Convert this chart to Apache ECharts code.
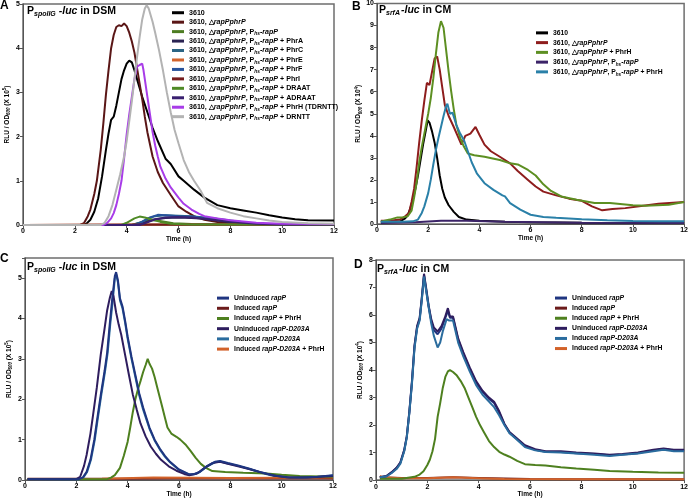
<!DOCTYPE html>
<html><head><meta charset="utf-8">
<script src="https://cdn.jsdelivr.net/npm/echarts@6/dist/echarts.min.js"></script>
<style>html,body{margin:0;padding:0;background:#fff}#c{width:691px;height:499px}</style>
</head><body><div id="c"></div>
<script>
// ---------- axis settings ----------
const xMin = 0, xMax = 12, xStep = 2;
const yMaxA = 5, yMaxB = 10, yMaxC = 5.5, yMaxD = 8, yStep = 1;

// ---------- Panel A : PspoIIG-luc in DSM (x 10^5) ----------
const a3610 = [[0,0],[2.3,0],[2.45,0.03],[2.6,0.12],[2.75,0.3],[2.9,0.6],[3.05,1.1],[3.2,1.7],[3.3,2.07],[3.4,2.38],[3.5,2.45],[3.6,2.7],[3.7,3.0],[3.8,3.3],[3.9,3.5],[4.0,3.65],[4.1,3.72],[4.2,3.68],[4.3,3.5],[4.4,3.3],[4.6,2.9],[4.8,2.55],[5.0,2.2],[5.2,1.9],[5.5,1.5],[5.7,1.38],[6.0,1.1],[6.2,1.0],[6.6,0.8],[7.0,0.62],[7.5,0.45],[8.0,0.38],[8.5,0.33],[9.0,0.28],[9.5,0.22],[10,0.17],[10.5,0.13],[11,0.11],[12,0.1]];
const aDelta = [[0,0],[2.2,0],[2.35,0.04],[2.5,0.2],[2.6,0.35],[2.75,0.7],[2.85,1.0],[3.0,1.7],[3.1,2.3],[3.2,2.95],[3.3,3.5],[3.4,4.0],[3.5,4.3],[3.6,4.48],[3.7,4.52],[3.8,4.5],[3.9,4.56],[4.0,4.5],[4.1,4.35],[4.2,4.15],[4.3,3.9],[4.4,3.55],[4.5,3.2],[4.6,2.85],[4.7,2.45],[4.8,2.1],[5.0,1.55],[5.2,1.2],[5.4,0.95],[5.7,0.68],[6.0,0.42],[6.3,0.3],[6.6,0.2],[7.0,0.12],[7.5,0.07],[8,0.05],[9,0.03],[12,0.02]];
const aHsRapP = [[0,0],[4.2,0],[4.5,0.05],[4.8,0.1],[5.1,0.11],[5.4,0.08],[5.8,0.04],[6.5,0.02],[12,0.01]];
const aPhrA = [[0,0],[4.4,0],[4.7,0.05],[5.0,0.12],[5.5,0.16],[6.0,0.17],[6.5,0.16],[7,0.14],[7.5,0.1],[8,0.06],[8.5,0.03],[9,0.02],[12,0.01]];
const aPhrC = [[0,0],[4.2,0],[4.5,0.05],[4.8,0.14],[5.1,0.2],[5.5,0.22],[6,0.21],[6.5,0.2],[7,0.17],[7.5,0.14],[8,0.1],[8.5,0.06],[9,0.03],[10,0.01],[12,0.01]];
const aPhrE = [[0,0],[5,0.01],[12,0.01]];
const aPhrF = [[0,0],[4.3,0],[4.6,0.07],[4.9,0.17],[5.2,0.23],[5.5,0.22],[6,0.2],[6.5,0.19],[7,0.16],[7.5,0.13],[8,0.09],[8.5,0.05],[9,0.03],[10,0.01],[12,0.01]];
const aPhrI = [[0,0],[5,0.01],[12,0.01]];
const aDRAAT = [[0,0],[3.8,0],[4.0,0.05],[4.3,0.15],[4.5,0.19],[4.7,0.17],[5.0,0.12],[5.3,0.07],[5.7,0.03],[6.5,0.01],[12,0.01]];
const aADRAAT = [[0,0],[4.5,0],[4.8,0.06],[5.1,0.13],[5.5,0.17],[6,0.18],[6.5,0.17],[7,0.14],[7.5,0.11],[8,0.08],[8.5,0.05],[9,0.03],[10,0.01],[12,0.01]];
const aPhrH = [[0,0],[3.1,0],[3.25,0.05],[3.4,0.15],[3.5,0.27],[3.6,0.45],[3.7,0.7],[3.8,1.0],[3.9,1.5],[4.0,2.05],[4.1,2.5],[4.2,2.9],[4.3,3.3],[4.4,3.58],[4.5,3.62],[4.6,3.65],[4.65,3.5],[4.7,3.3],[4.8,2.9],[4.9,2.5],[5.0,2.1],[5.1,1.8],[5.2,1.55],[5.3,1.32],[5.5,1.05],[5.7,0.85],[6.0,0.62],[6.2,0.48],[6.5,0.35],[6.8,0.25],[7.0,0.2],[7.5,0.15],[8,0.11],[8.5,0.08],[9,0.05],[10,0.03],[12,0.02]];
const aDRNTT = [[0,0],[3.0,0],[3.15,0.05],[3.3,0.2],[3.45,0.45],[3.6,0.8],[3.75,1.15],[3.9,1.55],[4.0,1.9],[4.1,2.35],[4.2,2.8],[4.3,3.3],[4.4,3.8],[4.5,4.25],[4.6,4.65],[4.7,4.9],[4.77,4.97],[4.85,4.9],[5.0,4.6],[5.1,4.35],[5.25,3.95],[5.4,3.5],[5.55,3.0],[5.7,2.55],[5.85,2.15],[6.0,1.85],[6.2,1.47],[6.4,1.2],[6.6,1.0],[6.85,0.78],[7.1,0.5],[7.5,0.38],[8.0,0.28],[8.5,0.2],[9.0,0.15],[9.5,0.1],[10,0.07],[11,0.04],[12,0.03]];

// ---------- Panel B : PsrfA-luc in CM (x 10^4) ----------
const b3610 = [[0.15,0.1],[0.5,0.1],[0.9,0.12],[1.1,0.25],[1.2,0.4],[1.3,0.7],[1.4,1.1],[1.5,1.6],[1.6,2.2],[1.7,2.9],[1.8,3.6],[1.9,4.2],[1.98,4.7],[2.05,4.6],[2.15,4.2],[2.25,3.7],[2.35,3.0],[2.45,2.2],[2.55,1.6],[2.65,1.2],[2.8,0.85],[3.0,0.55],[3.2,0.32],[3.5,0.2],[4,0.15],[5,0.1],[6,0.08],[8,0.06],[10,0.05],[12,0.05]];
const bDelta = [[0.15,0.15],[0.5,0.15],[0.9,0.2],[1.1,0.35],[1.25,0.5],[1.35,1.0],[1.45,1.6],[1.55,2.6],[1.65,3.7],[1.75,4.7],[1.85,5.6],[1.95,6.4],[2.05,6.3],[2.15,6.9],[2.25,7.5],[2.35,7.6],[2.45,7.0],[2.55,6.2],[2.65,5.4],[2.8,4.9],[3.0,4.4],[3.15,4.0],[3.3,3.6],[3.45,4.0],[3.65,4.1],[3.85,4.4],[4.0,4.05],[4.2,3.6],[4.45,3.3],[4.8,3.05],[5.2,2.75],[5.5,2.4],[5.9,2.0],[6.2,1.7],[6.5,1.47],[7.0,1.3],[7.5,1.15],[8.0,1.05],[8.4,0.8],[8.8,0.62],[9.2,0.68],[9.7,0.72],[10.4,0.83],[11.0,0.92],[12,1.0]];
const bDeltaPhrH = [[0.15,0.1],[0.5,0.2],[0.8,0.3],[1.0,0.3],[1.2,0.35],[1.35,0.6],[1.45,1.2],[1.55,1.9],[1.65,2.8],[1.75,3.5],[1.9,4.4],[2.0,5.0],[2.1,5.7],[2.2,6.6],[2.3,7.7],[2.4,8.7],[2.5,9.2],[2.6,8.9],[2.7,7.9],[2.8,6.9],[2.9,6.0],[3.0,5.2],[3.1,4.5],[3.25,3.9],[3.4,3.5],[3.55,3.2],[3.8,3.12],[4.2,3.05],[4.8,2.9],[5.2,2.75],[5.5,2.7],[5.9,2.45],[6.2,2.2],[6.5,1.8],[6.8,1.5],[7.2,1.25],[7.8,1.1],[8.5,0.95],[9.1,0.95],[10,0.85],[10.5,0.83],[11.4,0.87],[12,1.0]];
const bHsRapP = [[0.15,0.05],[1.5,0.08],[2.5,0.15],[3.5,0.15],[5,0.1],[8,0.06],[12,0.05]];
const bHsRapPPhrH = [[0.15,0.1],[1.0,0.1],[1.4,0.12],[1.6,0.2],[1.75,0.5],[1.85,0.8],[2.0,1.4],[2.1,2.0],[2.2,2.7],[2.3,3.35],[2.4,3.9],[2.5,4.4],[2.6,4.9],[2.7,5.35],[2.75,5.45],[2.85,5.0],[2.95,5.05],[3.1,4.5],[3.25,4.1],[3.4,3.8],[3.55,3.3],[3.7,2.8],[3.9,2.3],[4.2,1.85],[4.55,1.55],[4.9,1.3],[5.0,1.25],[5.2,0.95],[5.4,0.8],[5.6,0.65],[6.0,0.42],[6.5,0.32],[7.0,0.28],[8,0.22],[9,0.17],[10,0.14],[11,0.12],[12,0.12]];

// ---------- Panel C : PspoIIG-luc in DSM (x 10^5) ----------
const cUnRapP = [[0.1,0.02],[2.1,0.02],[2.25,0.06],[2.4,0.2],[2.55,0.5],[2.7,1.0],[2.8,1.45],[2.95,2.1],[3.1,2.7],[3.2,3.15],[3.3,3.85],[3.4,4.5],[3.5,5.05],[3.55,5.15],[3.62,4.95],[3.7,4.5],[3.8,4.3],[3.9,3.95],[4.0,3.55],[4.15,3.05],[4.3,2.6],[4.45,2.15],[4.6,1.8],[4.85,1.3],[5.05,1.0],[5.25,0.78],[5.45,0.6],[5.65,0.45],[6.0,0.26],[6.4,0.14],[6.6,0.15],[6.8,0.2],[7.1,0.35],[7.4,0.45],[7.6,0.47],[7.9,0.42],[8.3,0.36],[8.75,0.28],[9.2,0.19],[9.7,0.11],[10.2,0.07],[10.8,0.06],[11.4,0.08],[12,0.12]];
const cInRapP = [[0.1,0.03],[4,0.03],[6,0.04],[9,0.04],[12,0.04]];
const cInRapPPhrH = [[0.1,0.02],[3.2,0.02],[3.35,0.06],[3.5,0.12],[3.7,0.3],[3.85,0.6],[4.0,0.95],[4.1,1.3],[4.2,1.68],[4.3,2.0],[4.4,2.25],[4.5,2.45],[4.6,2.67],[4.7,2.85],[4.78,3.0],[4.85,2.88],[4.95,2.76],[5.05,2.55],[5.15,2.3],[5.25,2.05],[5.35,1.8],[5.45,1.55],[5.55,1.3],[5.7,1.15],[5.9,1.07],[6.05,1.0],[6.25,0.88],[6.45,0.72],[6.65,0.55],[6.85,0.4],[7.05,0.3],[7.3,0.22],[7.8,0.2],[8.5,0.18],[9.4,0.16],[10,0.13],[10.7,0.1],[12,0.08]];
const cUnD203A = [[0.1,0.02],[2.0,0.02],[2.15,0.08],[2.3,0.35],[2.4,0.62],[2.55,1.15],[2.65,1.6],[2.8,2.3],[2.95,3.1],[3.1,3.75],[3.2,4.2],[3.3,4.5],[3.38,4.68],[3.45,4.55],[3.55,4.15],[3.65,3.85],[3.75,3.6],[3.9,3.1],[4.05,2.6],[4.2,2.12],[4.35,1.75],[4.5,1.4],[4.7,1.08],[4.9,0.83],[5.1,0.65],[5.3,0.5],[5.6,0.34],[5.9,0.23],[6.2,0.15],[6.4,0.12],[6.7,0.16],[7.0,0.3],[7.3,0.42],[7.6,0.45],[7.9,0.4],[8.3,0.34],[8.8,0.26],[9.3,0.17],[9.8,0.1],[10.3,0.06],[11,0.06],[11.5,0.08],[12,0.1]];
const cInD203A = [[0.1,0.02],[2.12,0.02],[2.27,0.06],[2.42,0.2],[2.57,0.5],[2.72,1.0],[2.82,1.45],[2.97,2.1],[3.12,2.7],[3.22,3.15],[3.32,3.85],[3.42,4.45],[3.5,5.0],[3.55,5.1],[3.62,4.9],[3.7,4.45],[3.8,4.25],[3.9,3.9],[4.0,3.5],[4.15,3.0],[4.3,2.55],[4.45,2.1],[4.6,1.75],[4.85,1.27],[5.05,0.98],[5.25,0.76],[5.45,0.58],[5.65,0.44],[6.0,0.25],[6.4,0.13],[6.6,0.14],[6.8,0.19],[7.1,0.34],[7.4,0.44],[7.6,0.46],[7.9,0.41],[8.3,0.35],[8.75,0.27],[9.2,0.18],[9.7,0.1],[10.2,0.06],[10.8,0.05],[11.4,0.07],[12,0.11]];
const cInD203APhrH = [[0.1,0.02],[3,0.03],[5,0.06],[8,0.05],[12,0.06]];

// ---------- Panel D : PsrfA-luc in CM (x 10^4) ----------
const dUnRapP = [[0.15,0.1],[0.4,0.14],[0.6,0.27],[0.8,0.44],[0.95,0.63],[1.1,1.08],[1.2,1.58],[1.3,2.48],[1.4,3.55],[1.5,4.85],[1.6,5.55],[1.7,5.85],[1.78,6.55],[1.87,7.45],[1.95,6.95],[2.05,6.3],[2.15,5.8],[2.25,5.45],[2.4,5.3],[2.55,5.5],[2.7,5.9],[2.8,6.15],[2.88,5.9],[3.0,5.9],[3.1,5.5],[3.2,5.1],[3.4,4.6],[3.65,4.05],[3.9,3.55],[4.15,3.2],[4.4,2.95],[4.6,2.8],[4.8,2.45],[5.0,2.03],[5.2,1.72],[5.45,1.52],[5.8,1.24],[6.2,1.1],[6.6,1.03],[7.2,1.02],[7.8,0.98],[8.5,0.95],[9.1,0.9],[9.6,0.93],[10.2,0.98],[10.8,1.08],[11.2,1.13],[11.6,1.08],[12,1.08]];
const dInRapP = [[0.15,0.1],[1,0.08],[2,0.08],[3,0.1],[4,0.08],[6,0.04],[9,0.03],[12,0.03]];
const dInRapPPhrH = [[0.15,0.05],[1.0,0.05],[1.5,0.12],[1.7,0.2],[1.85,0.32],[2.0,0.55],[2.1,0.75],[2.2,1.05],[2.3,1.5],[2.4,2.3],[2.5,2.8],[2.6,3.35],[2.7,3.75],[2.8,3.95],[2.88,4.0],[3.0,3.93],[3.15,3.8],[3.3,3.6],[3.45,3.35],[3.6,3.0],[3.75,2.65],[3.9,2.3],[4.05,2.0],[4.2,1.75],[4.4,1.42],[4.6,1.2],[4.8,1.03],[5.0,0.93],[5.2,0.85],[5.5,0.7],[5.8,0.58],[6.2,0.55],[6.6,0.53],[7.2,0.47],[7.8,0.42],[8.5,0.38],[9.1,0.33],[10,0.3],[11,0.28],[12,0.27]];
const dUnD203A = [[0.15,0.1],[0.4,0.15],[0.6,0.28],[0.8,0.45],[0.95,0.65],[1.1,1.1],[1.2,1.6],[1.3,2.5],[1.4,3.6],[1.5,4.9],[1.6,5.6],[1.7,5.9],[1.78,6.6],[1.87,7.5],[1.95,7.0],[2.05,6.35],[2.15,5.85],[2.25,5.55],[2.4,5.4],[2.55,5.6],[2.7,5.95],[2.8,6.25],[2.88,5.95],[3.0,5.95],[3.1,5.55],[3.2,5.15],[3.4,4.65],[3.65,4.1],[3.9,3.6],[4.15,3.25],[4.4,3.0],[4.6,2.85],[4.8,2.5],[5.0,2.05],[5.2,1.75],[5.45,1.55],[5.8,1.27],[6.2,1.12],[6.6,1.05],[7.2,1.05],[7.8,1.0],[8.5,0.97],[9.1,0.92],[9.6,0.95],[10.2,1.0],[10.8,1.1],[11.2,1.15],[11.6,1.1],[12,1.1]];
const dInD203A = [[0.15,0.1],[0.4,0.13],[0.6,0.25],[0.8,0.4],[0.95,0.6],[1.1,1.05],[1.2,1.55],[1.3,2.45],[1.4,3.5],[1.5,4.8],[1.6,5.5],[1.7,5.8],[1.78,6.5],[1.87,7.4],[1.95,6.9],[2.05,6.3],[2.15,5.7],[2.25,5.25],[2.4,4.82],[2.5,5.0],[2.6,5.4],[2.75,5.85],[2.85,5.8],[3.0,5.8],[3.1,5.4],[3.2,5.0],[3.4,4.5],[3.65,3.95],[3.9,3.45],[4.15,3.1],[4.4,2.85],[4.6,2.65],[4.8,2.35],[5.0,2.0],[5.2,1.7],[5.45,1.5],[5.8,1.2],[6.2,1.08],[6.6,1.02],[7.2,1.0],[7.8,0.97],[8.5,0.92],[9.1,0.88],[9.6,0.92],[10.2,0.97],[10.8,1.05],[11.2,1.1],[11.6,1.05],[12,1.05]];
const dInD203APhrH = [[0.15,0.15],[0.3,0.1],[1,0.07],[2,0.07],[3,0.1],[4,0.07],[5,0.04],[8,0.03],[12,0.03]];

// ---------- legend labels ----------
const pre = '{n|3610, △}{i|rapPphrP}';
const hs = pre + '{n|, P}{s|hs}{i|-rapP}';
const labelsA = ['{n|3610}', pre, hs, hs+'{n| + PhrA}', hs+'{n| + PhrC}', hs+'{n| + PhrE}', hs+'{n| + PhrF}', hs+'{n| + PhrI}', hs+'{n| + DRAAT}', hs+'{n| + ADRAAT}', hs+'{n| + PhrH (TDRNTT)}', hs+'{n| + DRNTT}'];
const labelsB = ['{n|3610}', pre, pre+'{n| + PhrH}', hs, hs+'{n| + PhrH}'];
const labelsCD = ['{n|Uninduced }{i|rapP}', '{n|Induced }{i|rapP}', '{n|Induced }{i|rapP}{n| + PhrH}', '{n|Uninduced }{i|rapP-D203A}', '{n|Induced }{i|rapP-D203A}', '{n|Induced }{i|rapP-D203A}{n| + PhrH}'];

const colorsA = ['#000000','#5a1616','#4d7d22','#2a2352','#2b6584','#d2642c','#27539c','#761c1c','#4f8a26','#3a2070','#a83ce8','#b3b3b3'];
const colorsB = ['#000000','#8e1d1d','#5d8f22','#3c2468','#2a80a8'];
const colorsCD = ['#1f3580','#6b1b1b','#4e801f','#2e1d5e','#2a6c9e','#d2622a'];

const dataA = [a3610,aDelta,aHsRapP,aPhrA,aPhrC,aPhrE,aPhrF,aPhrI,aDRAAT,aADRAAT,aPhrH,aDRNTT];
const dataB = [b3610,bDelta,bDeltaPhrH,bHsRapP,bHsRapPPhrH];
const dataC = [cUnRapP,cInRapP,cInRapPPhrH,cUnD203A,cInD203A,cInD203APhrH];
const dataD = [dUnRapP,dInRapP,dInRapPPhrH,dUnD203A,dInD203A,dInD203APhrH];

// ---------- build ----------
const FF = '"Liberation Sans", Arial, sans-serif';
const labelMap = {};
const series = [];
function addPanel(p, idx, datas, labels, colors, zMap) {
  const names = [];
  datas.forEach((d, i) => {
    const nm = p + i;
    names.push(nm);
    labelMap[nm] = labels[i];
    series.push({
      name: nm, type: 'line', xAxisIndex: idx, yAxisIndex: idx, data: d,
      showSymbol: false, symbol: 'none', animation: false,
      z: zMap ? zMap[i] : 2,
      lineStyle: { width: 2, color: colors[i] }, itemStyle: { color: colors[i] }
    });
  });
  return names;
}
const nA = addPanel('A', 0, dataA, labelsA, colorsA);
const nB = addPanel('B', 1, dataB, labelsB, colorsB);
const nC = addPanel('C', 2, dataC, labelsCD, colorsCD, [4,2,3,3,2,2]);
const nD = addPanel('D', 3, dataD, labelsCD, colorsCD, [3,2,3,4,5,2]);

function rich(fs, lh) {
  return {
    n: { fontFamily: FF, fontWeight: 'bold', fontSize: fs, lineHeight: lh, color: '#000' },
    i: { fontFamily: FF, fontWeight: 'bold', fontStyle: 'italic', fontSize: fs, lineHeight: lh, color: '#000' },
    s: { fontFamily: FF, fontWeight: 'bold', fontStyle: 'italic', fontSize: fs * 0.68, lineHeight: fs * 0.7, verticalAlign: 'bottom', color: '#000' },
    u: { fontFamily: FF, fontWeight: 'bold', fontSize: fs * 0.68, lineHeight: fs * 0.7, verticalAlign: 'top', color: '#000' }
  };
}
function legend(names, left, top, fs, lh, gap) {
  return {
    data: names, orient: 'vertical', left: left, top: top, itemGap: gap,
    itemWidth: 12, itemHeight: 3, icon: 'rect', selectedMode: false, padding: 0,
    formatter: n => labelMap[n],
    textStyle: { fontSize: fs, lineHeight: lh, rich: rich(fs, lh) }
  };
}
const grids = [
  { left: 23, top: 4, width: 311, height: 221 },
  { left: 377, top: 3, width: 310, height: 221 },
  { left: 25, top: 258, width: 308, height: 222 },
  { left: 376, top: 260, width: 310, height: 222 }
].map(g => Object.assign(g, { show: true, borderColor: '#6e6e6e', borderWidth: 1.5, backgroundColor: 'transparent' }));

const yMaxes = [yMaxA, yMaxB, yMaxC, yMaxD];
const yExp = ['5', '4', '5', '4'];
const axisLbl = { fontFamily: FF, fontWeight: 'bold', fontSize: 7, color: '#000', margin: 3 };
const xAxis = grids.map((g, i) => ({
  type: 'value', gridIndex: i, min: xMin, max: xMax, interval: xStep,
  name: 'Time (h)', nameLocation: 'middle', nameGap: 10,
  nameTextStyle: { fontFamily: FF, fontWeight: 'bold', fontSize: 6.5, color: '#000' },
  axisLine: { lineStyle: { color: '#555', width: 1 } },
  axisTick: { length: 3, lineStyle: { color: '#555' } },
  axisLabel: axisLbl, splitLine: { show: false }
}));
const yAxis = grids.map((g, i) => ({
  type: 'value', gridIndex: i, min: 0, max: yMaxes[i], interval: yStep,
  name: '{n|RLU / OD}{s|600}{n| (X 10}{u|' + yExp[i] + '}{n|)}',
  nameLocation: 'middle', nameGap: 12, nameRotate: 90,
  nameTextStyle: { rich: rich(6.5, 8) },
  axisLine: { lineStyle: { color: '#555', width: 1 } },
  axisTick: { length: 3, lineStyle: { color: '#555' } },
  axisLabel: Object.assign({}, axisLbl, { formatter: v => Number.isInteger(v) ? String(v) : '' }),
  splitLine: { show: false }
}));

function titleText(sub, rest) {
  return '{p|P}{s|' + sub + '}{i|-luc}{p| in ' + rest + '}';
}
const titleRich = {
  p: { fontFamily: FF, fontWeight: 'bold', fontSize: 10.5, lineHeight: 13, color: '#000' },
  i: { fontFamily: FF, fontWeight: 'bold', fontStyle: 'italic', fontSize: 10.5, lineHeight: 13, color: '#000' },
  s: { fontFamily: FF, fontWeight: 'bold', fontStyle: 'italic', fontSize: 7, lineHeight: 8, verticalAlign: 'bottom', color: '#000', padding: [0, 1, 0, 0] }
};
const titles = [
  { text: titleText('spoIIG ', 'DSM'), left: 27, top: 5 },
  { text: titleText('srfA', 'CM'), left: 379, top: 4 },
  { text: titleText('spoIIG ', 'DSM'), left: 27, top: 261 },
  { text: titleText('srfA', 'CM'), left: 377, top: 263 }
].map(t => Object.assign(t, { padding: 0, textStyle: { rich: titleRich } }));

const letters = [['A', 0, 0], ['B', 352, 1], ['C', 0, 253], ['D', 354, 259]];
const graphic = letters.map(l => ({
  type: 'text', left: l[1], top: l[2],
  style: { text: l[0], font: 'bold 12px ' + FF, fill: '#000' }
}));

const chart = echarts.init(document.getElementById('c'), null, { renderer: 'canvas' });
chart.setOption({
  animation: false,
  backgroundColor: '#fff',
  title: titles,
  graphic: graphic,
  grid: grids,
  xAxis: xAxis,
  yAxis: yAxis,
  legend: [
    legend(nA, 172, 8, 7.1, 9.45, 0),
    legend(nB, 536, 28, 6.8, 9.75, 0),
    legend(nC, 217, 293, 6.8, 10.2, 0),
    legend(nD, 555, 293, 6.8, 10.1, 0)
  ],
  series: series
});
</script>
</body></html>
